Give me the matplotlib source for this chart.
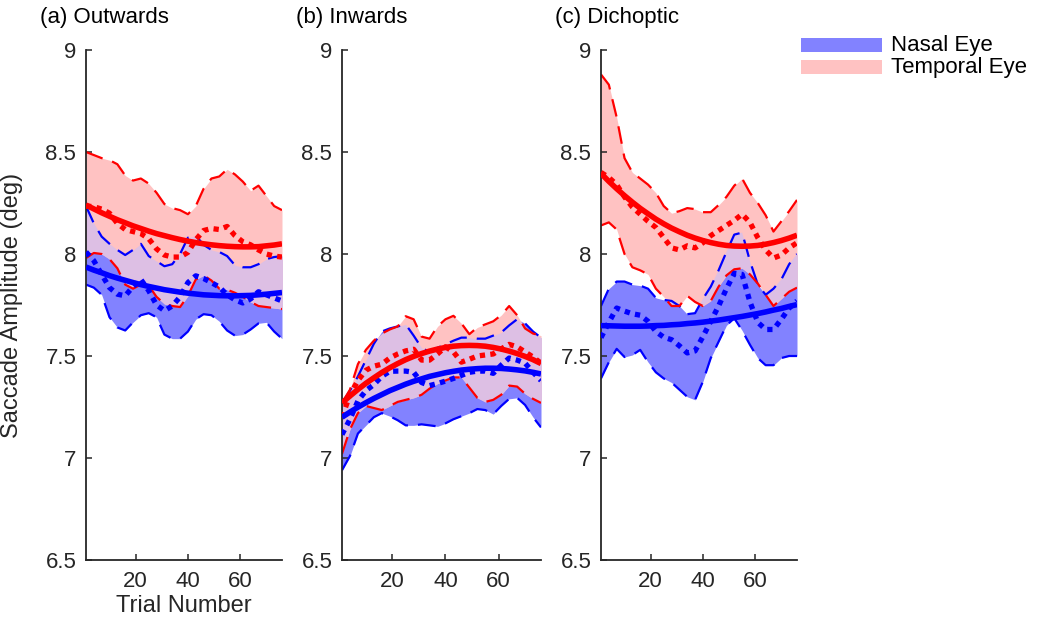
import numpy as np
import matplotlib
matplotlib.use("Agg")
import matplotlib.pyplot as plt
from matplotlib.patches import Rectangle

plt.rcParams['font.family'] = ['Liberation Sans', 'DejaVu Sans']

# ---------------- data ----------------
trials = [1, 4, 7, 10, 13, 16, 19, 22, 25, 28, 31, 34, 37, 40, 43, 46, 49, 52,
          55, 58, 61, 64, 67, 70, 73, 76]

titles = ["(a) Outwards", "(b) Inwards", "(c) Dichoptic"]

# (a) Outwards
a_nasal_upper = [8.235, 8.15, 8.085, 8.05, 8.02, 7.995, 8.02, 8.05, 7.99, 7.965, 7.94, 7.95, 8.0,
                 8.08, 8.09, 8.045, 8.02, 8.01, 7.99, 7.945, 7.935, 7.935, 7.95, 7.975, 7.985, 7.99]
a_nasal_lower = [7.85, 7.835, 7.80, 7.69, 7.64, 7.625, 7.665, 7.70, 7.71, 7.69, 7.605, 7.585, 7.585,
                 7.62, 7.68, 7.705, 7.70, 7.67, 7.625, 7.60, 7.605, 7.63, 7.66, 7.665, 7.62, 7.585]
a_nasal_mean = [8.01, 7.967, 7.90, 7.835, 7.803, 7.795, 7.84, 7.875, 7.82, 7.75, 7.722, 7.745, 7.79,
                7.86, 7.893, 7.88, 7.86, 7.838, 7.80, 7.775, 7.76, 7.78, 7.815, 7.80, 7.785, 7.77]
a_nasal_fit = [7.936, 7.921, 7.908, 7.894, 7.882, 7.871, 7.860, 7.850, 7.841, 7.833, 7.825, 7.819, 7.813,
               7.808, 7.804, 7.800, 7.798, 7.796, 7.795, 7.795, 7.796, 7.797, 7.800, 7.803, 7.807, 7.811]
a_temp_upper = [8.50, 8.485, 8.47, 8.46, 8.44, 8.385, 8.36, 8.37, 8.345, 8.30, 8.245, 8.225, 8.215,
                8.195, 8.235, 8.32, 8.37, 8.38, 8.415, 8.39, 8.355, 8.31, 8.335, 8.285, 8.235, 8.215]
a_temp_lower = [7.98, 8.005, 8.0, 7.975, 7.93, 7.85, 7.83, 7.85, 7.845, 7.79, 7.755, 7.745, 7.74,
                7.795, 7.875, 7.895, 7.87, 7.83, 7.825, 7.81, 7.79, 7.765, 7.745, 7.74, 7.735, 7.73]
a_temp_mean = [8.235, 8.232, 8.22, 8.20, 8.15, 8.12, 8.11, 8.10, 8.075, 8.025, 7.995, 7.985, 7.985,
               8.008, 8.07, 8.115, 8.125, 8.12, 8.135, 8.09, 8.06, 8.045, 8.02, 8.0, 7.99, 7.985]
a_temp_fit = [8.240, 8.221, 8.202, 8.185, 8.168, 8.153, 8.138, 8.125, 8.112, 8.100, 8.090, 8.080, 8.071,
              8.063, 8.056, 8.050, 8.045, 8.041, 8.038, 8.036, 8.035, 8.035, 8.036, 8.040, 8.044, 8.050]

# (b) Inwards
b_nasal_upper = [7.27, 7.33, 7.40, 7.48, 7.56, 7.62, 7.635, 7.645, 7.655, 7.60, 7.54, 7.52, 7.54,
                 7.557, 7.575, 7.59, 7.59, 7.585, 7.585, 7.60, 7.615, 7.65, 7.68, 7.66, 7.62, 7.59]
b_nasal_lower = [6.94, 7.01, 7.12, 7.16, 7.20, 7.22, 7.205, 7.185, 7.16, 7.16, 7.165, 7.16, 7.155,
                 7.17, 7.19, 7.205, 7.22, 7.24, 7.235, 7.215, 7.255, 7.29, 7.295, 7.26, 7.20, 7.15]
b_nasal_mean = [7.115, 7.19, 7.28, 7.33, 7.36, 7.40, 7.425, 7.426, 7.426, 7.42, 7.37, 7.355, 7.365,
                7.377, 7.39, 7.405, 7.42, 7.426, 7.426, 7.415, 7.455, 7.49, 7.48, 7.465, 7.42, 7.38]
b_nasal_fit = [7.200, 7.225, 7.249, 7.271, 7.292, 7.311, 7.330, 7.346, 7.362, 7.376, 7.388, 7.400, 7.409,
               7.418, 7.425, 7.431, 7.435, 7.438, 7.440, 7.440, 7.439, 7.436, 7.432, 7.427, 7.420, 7.412]
b_temp_upper = [7.27, 7.335, 7.46, 7.53, 7.575, 7.61, 7.63, 7.645, 7.695, 7.68, 7.595, 7.585, 7.645,
                7.68, 7.697, 7.66, 7.607, 7.64, 7.655, 7.67, 7.70, 7.745, 7.70, 7.635, 7.61, 7.60]
b_temp_lower = [7.02, 7.14, 7.22, 7.255, 7.245, 7.235, 7.255, 7.275, 7.285, 7.295, 7.31, 7.34, 7.365,
                7.38, 7.395, 7.395, 7.345, 7.295, 7.275, 7.285, 7.31, 7.355, 7.35, 7.315, 7.29, 7.27]
b_temp_mean = [7.20, 7.31, 7.38, 7.43, 7.45, 7.46, 7.49, 7.51, 7.525, 7.533, 7.48, 7.48, 7.51,
               7.545, 7.52, 7.47, 7.484, 7.50, 7.505, 7.51, 7.535, 7.557, 7.545, 7.52, 7.495, 7.465]
b_temp_fit = [7.270, 7.304, 7.336, 7.366, 7.393, 7.419, 7.442, 7.463, 7.482, 7.498, 7.512, 7.524, 7.534,
              7.542, 7.548, 7.551, 7.552, 7.551, 7.548, 7.542, 7.534, 7.524, 7.512, 7.498, 7.482, 7.463]

# (c) Dichoptic
c_nasal_upper = [7.745, 7.83, 7.865, 7.865, 7.85, 7.845, 7.83, 7.785, 7.775, 7.77, 7.745, 7.705, 7.71,
                 7.78, 7.84, 7.92, 8.01, 8.095, 8.105, 7.965, 7.85, 7.80, 7.83, 7.875, 7.95, 8.0]
c_nasal_lower = [7.39, 7.47, 7.535, 7.495, 7.505, 7.53, 7.47, 7.42, 7.39, 7.37, 7.335, 7.30, 7.285,
                 7.375, 7.49, 7.57, 7.65, 7.685, 7.625, 7.555, 7.49, 7.455, 7.455, 7.49, 7.50, 7.50]
c_nasal_mean = [7.59, 7.665, 7.735, 7.72, 7.707, 7.70, 7.67, 7.62, 7.592, 7.58, 7.55, 7.515, 7.525,
                7.595, 7.67, 7.745, 7.83, 7.905, 7.90, 7.765, 7.665, 7.63, 7.63, 7.68, 7.735, 7.77]
c_nasal_fit = [7.649, 7.648, 7.647, 7.646, 7.646, 7.646, 7.647, 7.649, 7.650, 7.653, 7.655, 7.659, 7.662,
               7.666, 7.671, 7.676, 7.682, 7.688, 7.694, 7.701, 7.708, 7.716, 7.725, 7.733, 7.743, 7.752]
c_temp_upper = [8.88, 8.83, 8.67, 8.47, 8.40, 8.37, 8.34, 8.30, 8.235, 8.20, 8.21, 8.225, 8.22,
                8.205, 8.205, 8.24, 8.28, 8.335, 8.37, 8.30, 8.25, 8.19, 8.11, 8.16, 8.21, 8.265]
c_temp_lower = [8.14, 8.155, 8.12, 8.0, 7.935, 7.92, 7.90, 7.83, 7.79, 7.745, 7.745, 7.795, 7.765,
                7.745, 7.77, 7.84, 7.895, 7.925, 7.93, 7.90, 7.855, 7.80, 7.745, 7.78, 7.815, 7.835]
c_temp_mean = [8.40, 8.375, 8.34, 8.28, 8.23, 8.195, 8.16, 8.13, 8.08, 8.03, 8.02, 8.04, 8.03,
               8.055, 8.09, 8.115, 8.14, 8.165, 8.195, 8.155, 8.08, 8.02, 7.98, 7.995, 8.03, 8.055]
c_temp_fit = [8.395, 8.356, 8.320, 8.286, 8.254, 8.224, 8.197, 8.171, 8.148, 8.127, 8.109, 8.092, 8.078,
              8.066, 8.056, 8.048, 8.042, 8.039, 8.038, 8.039, 8.042, 8.048, 8.056, 8.066, 8.078, 8.092]

panels = [
    (a_nasal_upper, a_nasal_lower, a_nasal_mean, a_nasal_fit,
     a_temp_upper, a_temp_lower, a_temp_mean, a_temp_fit),
    (b_nasal_upper, b_nasal_lower, b_nasal_mean, b_nasal_fit,
     b_temp_upper, b_temp_lower, b_temp_mean, b_temp_fit),
    (c_nasal_upper, c_nasal_lower, c_nasal_mean, c_nasal_fit,
     c_temp_upper, c_temp_lower, c_temp_mean, c_temp_fit),
]

y_ticks = [6.5, 7, 7.5, 8, 8.5, 9]
y_tick_labels = ["6.5", "7", "7.5", "8", "8.5", "9"]
x_ticks = [20, 40, 60]
legend_labels = ["Nasal Eye", "Temporal Eye"]

# ---------------- style ----------------
W, H = 1044, 617
NASAL_FILL = '#8282ff'
TEMP_FILL = '#ffc2c2'
OVERLAP_FILL = '#ddbfe4'
BLUE = '#0000ff'
RED = '#ff0000'
AXC = '#262626'

fig = plt.figure(figsize=(W / 100, H / 100), dpi=100)
lefts = [86, 342, 601]
widths = [196, 199, 196]
ax_top, ax_bot = 50, 560

t = np.array(trials, dtype=float)
axes = []
for i, (title, data) in enumerate(zip(titles, panels)):
    nu, nl, nm, nf, tu, tl, tm, tf = [np.array(d, dtype=float) for d in data]
    ax = fig.add_axes([lefts[i] / W, 1 - ax_bot / H, widths[i] / W, (ax_bot - ax_top) / H])
    axes.append(ax)

    ax.fill_between(t, nl, nu, color=NASAL_FILL, lw=0, zorder=1)
    ax.fill_between(t, tl, tu, color=TEMP_FILL, lw=0, zorder=1.1)
    lo = np.maximum(nl, tl)
    hi = np.minimum(nu, tu)
    ax.fill_between(t, lo, hi, where=hi > lo, interpolate=True,
                    color=OVERLAP_FILL, lw=0, zorder=1.2)

    for s, c in ((nu, BLUE), (nl, BLUE), (tu, RED), (tl, RED)):
        ax.plot(t, s, color=c, lw=1.6, dashes=(8, 4.5), zorder=2)
    ax.plot(t, nm, color=BLUE, lw=3.8, dashes=(1, 1.0), zorder=3)
    ax.plot(t, tm, color=RED, lw=3.8, dashes=(1, 1.0), zorder=3)
    ax.plot(t, nf, color=BLUE, lw=4, zorder=4, solid_capstyle='butt')
    ax.plot(t, tf, color=RED, lw=4, zorder=4, solid_capstyle='butt')

    ax.set_xlim(1, 76)
    ax.set_ylim(6.5, 9)
    ax.set_yticks(y_ticks)
    ax.set_yticklabels(y_tick_labels)
    ax.set_xticks(x_ticks)
    for side in ('top', 'right'):
        ax.spines[side].set_visible(False)
    for side in ('left', 'bottom'):
        ax.spines[side].set_color(AXC)
        ax.spines[side].set_linewidth(1.3)
    ax.tick_params(direction='in', length=4.5, width=1.1, color=AXC,
                   labelcolor=AXC, labelsize=16)
    ax.tick_params(axis='y', pad=7)
    ax.tick_params(axis='x', pad=8)

    fig.text((lefts[i] - 46) / W, 1 - 18 / H, title, fontsize=16,
             ha='left', va='center', color='#000000')

axes[0].set_ylabel("Saccade Amplitude (deg)", fontsize=17, color=AXC)
axes[0].yaxis.set_label_coords((23 - 86) / 196, 0.5)
axes[0].set_xlabel("Trial Number", fontsize=17, color=AXC, labelpad=2)

# legend (patches + labels outside the panels, at the upper right)
legend_colors = [NASAL_FILL, TEMP_FILL]
for k, (lab, col) in enumerate(zip(legend_labels, legend_colors)):
    yc = 45 + k * 22
    fig.add_artist(Rectangle((801 / W, 1 - (yc + 6.7) / H), 81 / W, 13.4 / H,
                             transform=fig.transFigure, facecolor=col,
                             edgecolor='none'))
    fig.text(891 / W, 1 - yc / H, lab, fontsize=16, ha='left',
             va='center', color='#000000')

fig.savefig("out.png", dpi=100)
